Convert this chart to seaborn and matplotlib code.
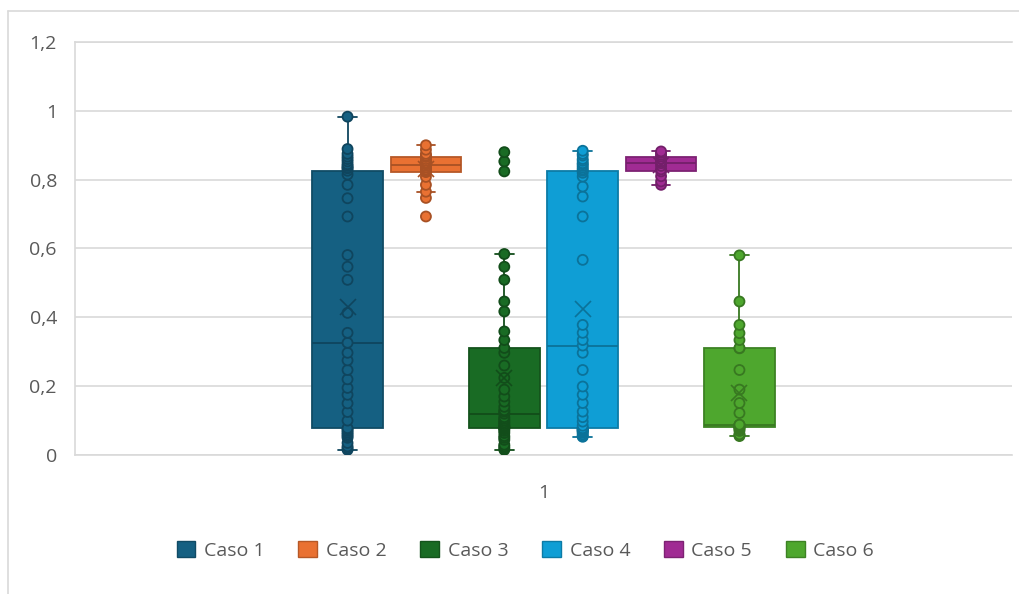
import matplotlib
matplotlib.use("Agg")
import matplotlib.pyplot as plt
import matplotlib.colors as mcolors
from matplotlib.patches import Patch
from matplotlib.lines import Line2D
import seaborn as sns
import pandas as pd

# valores (box plot de Excel, un solo grupo "1")
casos = ["Caso 1", "Caso 2", "Caso 3", "Caso 4", "Caso 5", "Caso 6"]
colores = ["#156082", "#E97132", "#196B24", "#0F9ED5", "#A02B93", "#4EA72E"]

caso1 = [0.015, 0.02, 0.025, 0.035, 0.05, 0.055, 0.06, 0.065, 0.07, 0.075,
         0.078,
         0.10, 0.125, 0.15, 0.175, 0.195, 0.22, 0.247, 0.275, 0.297,
         0.326,
         0.355, 0.413, 0.509, 0.547, 0.581, 0.693, 0.746, 0.785, 0.815,
         0.826,
         0.833, 0.835, 0.84, 0.845, 0.853, 0.86, 0.867, 0.875, 0.889, 0.983]
caso2 = [0.693, 0.747, 0.765, 0.785, 0.808, 0.822, 0.824, 0.826, 0.83, 0.835, 0.84,
         0.845, 0.848, 0.85, 0.855, 0.86, 0.866, 0.868, 0.87, 0.875, 0.887, 0.90]
caso3 = [0.015, 0.02, 0.025, 0.03, 0.044, 0.05, 0.055, 0.064, 0.07, 0.075,
         0.078,
         0.08, 0.08, 0.082, 0.085, 0.09, 0.095, 0.10, 0.105, 0.11, 0.12,
         0.126, 0.13, 0.14, 0.155, 0.17, 0.19, 0.224, 0.26, 0.297,
         0.311,
         0.334, 0.359, 0.417, 0.446, 0.509, 0.547, 0.584, 0.824, 0.853, 0.88]
caso4 = [0.053, 0.055, 0.06, 0.065, 0.068, 0.07, 0.072, 0.073, 0.075, 0.077,
         0.078,
         0.085, 0.097, 0.11, 0.126, 0.151, 0.175, 0.199, 0.247, 0.297,
         0.318,
         0.334, 0.355, 0.378, 0.567, 0.693, 0.751, 0.78, 0.809, 0.82,
         0.826,
         0.83, 0.835, 0.84, 0.845, 0.848, 0.855, 0.86, 0.87, 0.875, 0.884]
caso5 = [0.785, 0.795, 0.81, 0.824, 0.83, 0.84, 0.848, 0.853, 0.86, 0.867,
         0.872, 0.878, 0.882]
caso6 = [0.055, 0.058, 0.06, 0.07, 0.075, 0.078, 0.08, 0.082, 0.085, 0.085,
         0.086, 0.087, 0.087, 0.088, 0.122, 0.151, 0.19, 0.247, 0.31, 0.311,
         0.334, 0.354, 0.378, 0.446, 0.58]

y_ticks = [0, 0.2, 0.4, 0.6, 0.8, 1.0, 1.2]
y_labels = ["0", "0,2", "0,4", "0,6", "0,8", "1", "1,2"]

series = [caso1, caso2, caso3, caso4, caso5, caso6]
df = pd.concat([pd.DataFrame({"grupo": "1", "caso": c, "valor": v})
                for c, v in zip(casos, series)], ignore_index=True)


def darker(c, f=0.78):
    r, g, b = mcolors.to_rgb(c)
    return (r * f, g * f, b * f)


sns.set_style("white")
plt.rcParams["font.family"] = ["Open Sans", "DejaVu Sans"]

fig = plt.figure(figsize=(10.2, 5.94), dpi=100)
ax = fig.add_axes([0.0735, 0.234, 0.9187, 0.6953])

sns.boxplot(data=df, x="grupo", y="valor", hue="caso", hue_order=casos,
            palette=colores, saturation=1, gap=0.1, whis=1.5,
            showfliers=False, showmeans=True, linewidth=1.3,
            meanprops=dict(marker="x", markersize=12, markeredgewidth=1.2),
            capwidths=0.032, legend=False, ax=ax, zorder=2)

# bordes, bigotes y media con un tono mas oscuro de cada serie
width = 0.8
offs = [-width / 2 + width / 6 * (i + 0.5) for i in range(6)]
for i, p in enumerate(ax.patches):
    p.set_edgecolor(darker(colores[i]))
for ln in ax.lines:
    xs = ln.get_xdata()
    if len(xs) == 0:
        continue
    xm = sum(xs) / len(xs)
    i = min(range(6), key=lambda k: abs(offs[k] - xm))
    ln.set_color(darker(colores[i], 0.72))
    if ln.get_marker() == "x":
        ln.set_markeredgecolor(darker(colores[i], 0.72))
        ln.set_zorder(5)

n_before = len(ax.collections)
sns.stripplot(data=df, x="grupo", y="valor", hue="caso", hue_order=casos,
              palette=colores, dodge=True, jitter=False, size=7.2,
              linewidth=1.3, legend=False, ax=ax, zorder=4)
for i, coll in enumerate(ax.collections[n_before:]):
    coll.set_edgecolor(darker(colores[i], 0.72))

ax.set_xlim(-0.797, 0.797)
ax.set_ylim(0, 1.2)
ax.set_yticks(y_ticks)
ax.set_yticklabels(y_labels)
ax.set_xlabel("")
ax.set_ylabel("")
ax.grid(axis="y", color="#d9d9d9", linewidth=1.2, zorder=0)
ax.set_axisbelow(True)
ax.tick_params(axis="y", length=0, pad=13, labelsize=14, labelcolor="#595959")
ax.tick_params(axis="x", length=0, pad=21, labelsize=14, labelcolor="#595959")
ax.spines["right"].set_visible(False)
for s in ["left", "top", "bottom"]:
    ax.spines[s].set_color("#d9d9d9")
    ax.spines[s].set_linewidth(1.2)

handles = [Patch(facecolor=c, edgecolor=darker(c)) for c in colores]
fig.legend(handles, casos, loc="center", ncol=6, frameon=False,
           bbox_to_anchor=(0.515, 0.074), fontsize=14, handlelength=0.95,
           handleheight=0.95, handletextpad=0.45, columnspacing=1.75,
           labelcolor="#595959")

# borde exterior del area del grafico
fig.add_artist(Line2D([8 / 1020, 8 / 1020], [0, 1 - 11 / 594],
                      transform=fig.transFigure, color="#d9d9d9", linewidth=1.2))
fig.add_artist(Line2D([8 / 1020, 1], [1 - 11 / 594, 1 - 11 / 594],
                      transform=fig.transFigure, color="#d9d9d9", linewidth=1.2))

fig.savefig("out.png", dpi=100, facecolor="white")
